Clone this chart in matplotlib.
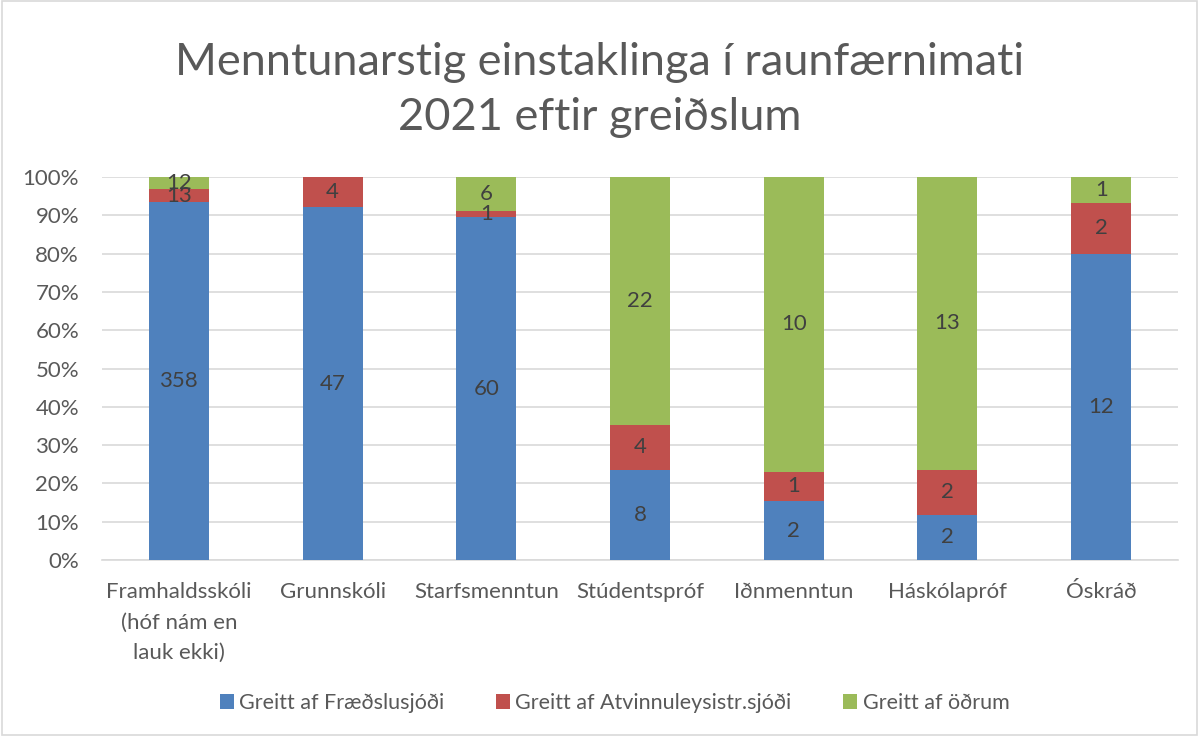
import numpy as np
import matplotlib.pyplot as plt
from matplotlib.patches import Rectangle

plt.rcParams['font.family'] = ['Lato', 'DejaVu Sans']

# Data
categories = ['Framhaldsskóli\n(hóf nám en\nlauk ekki)', 'Grunnskóli', 'Starfsmenntun',
              'Stúdentspróf', 'Iðnmenntun', 'Háskólapróf', 'Óskráð']
fraedslu = [358, 47, 60, 8, 2, 2, 12]
atvinnu = [13, 4, 1, 4, 1, 2, 2]
odrum = [12, 0, 6, 22, 10, 13, 1]
series_names = ['Greitt af Fræðslusjóði', 'Greitt af Atvinnuleysistr.sjóði', 'Greitt af öðrum']
colors = ['#4F81BD', '#C0504D', '#9BBB59']
txt = '#595959'

data = np.array([fraedslu, atvinnu, odrum], dtype=float)
totals = data.sum(axis=0)
pct = data / totals * 100

fig = plt.figure(figsize=(11.99, 7.36), dpi=100)
ax = fig.add_axes([102/1199, 1 - 560/736, 1076/1199, 383/736])

x = np.arange(len(categories))
bottom = np.zeros(len(categories))
for i in range(3):
    ax.bar(x, pct[i], 0.39, bottom=bottom, color=colors[i], label=series_names[i], zorder=3)
    for j in range(len(categories)):
        if data[i, j] > 0:
            ax.text(x[j], bottom[j] + pct[i, j] / 2, '%d' % data[i, j], ha='center', va='center',
                    fontsize=16, color='#404040', zorder=4)
    bottom += pct[i]

ax.set_xlim(-0.5, len(categories) - 0.5)
ax.set_ylim(0, 100)
ax.set_yticks(np.arange(0, 101, 10))
ax.set_yticklabels(['%d%%' % v for v in range(0, 101, 10)])
ax.set_xticks(x)
ax.set_xticklabels(categories, linespacing=1.65)
ax.tick_params(axis='both', length=0, colors=txt, labelsize=16)
ax.tick_params(axis='x', pad=16)
ax.tick_params(axis='y', pad=16.5)
ax.grid(axis='y', color='#D9D9D9', linewidth=1.2, zorder=0)
for s in ['top', 'right', 'left']:
    ax.spines[s].set_visible(False)
ax.spines['bottom'].set_color('#D9D9D9')
ax.spines['bottom'].set_linewidth(1.2)

fig.text(0.5, 1 - 90/736, 'Menntunarstig einstaklinga í raunfærnimati\n2021 eftir greiðslum',
         ha='center', va='center', fontsize=32.5, color=txt, linespacing=1.42)

fig.legend(loc='center', bbox_to_anchor=(0.5 + 15/1199, 1 - 703/736), ncol=3, frameon=False,
           fontsize=15.5, labelcolor=txt, handlelength=0.65, handleheight=0.65,
           handletextpad=0.25, columnspacing=2.4)

fig.patches.append(Rectangle((0.002, 0.002), 0.996, 0.996, transform=fig.transFigure,
                             fill=False, edgecolor='#D9D9D9', linewidth=1.2))

fig.savefig('out.png', dpi=100)
